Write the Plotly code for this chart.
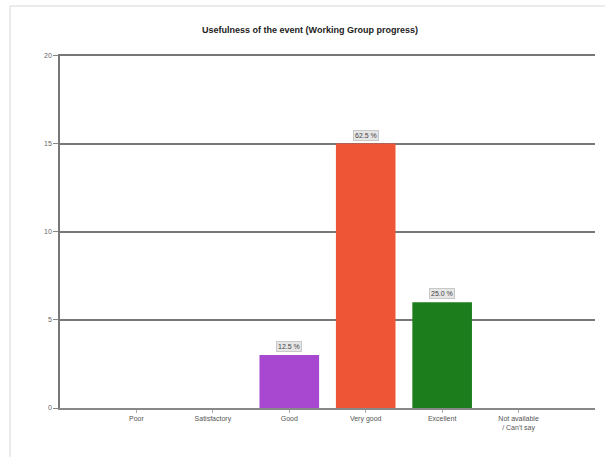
import plotly.graph_objects as go

# Survey responses: usefulness of the event (Working Group progress)
categories = ["Poor", "Satisfactory", "Good", "Very good", "Excellent",
              "Not available<br>/ Can't say"]
counts = [0, 0, 3, 15, 6, 0]
bar_colors = ["#888888", "#888888", "#a847cf", "#ee5536", "#1b7d1b", "#888888"]
y_ticks = [0, 5, 10, 15, 20]

total = sum(counts)
percents = [100.0 * c / total for c in counts]

W, H = 605, 457
L, R, T, B = 60, 10, 54, 49

fig = go.Figure()
fig.add_trace(go.Bar(
    x=list(range(len(categories))),
    y=counts,
    width=0.78,
    marker=dict(color=bar_colors, line=dict(width=0)),
    hoverinfo="skip",
))

# Percentage labels in small boxes above non-empty bars
for i, (c, p) in enumerate(zip(counts, percents)):
    if c > 0:
        fig.add_annotation(
            x=i, y=c, xref="x", yref="y",
            text=f"{p:.1f} %", showarrow=False,
            yanchor="bottom", yshift=3,
            font=dict(family="Liberation Sans, Arial", size=7, color="#444444"),
            bgcolor="#e6e6e6", bordercolor="#c8c8c8", borderwidth=1, borderpad=1,
        )

pw, ph = W - L - R, H - T - B
# light frame lines (left and top edges of the chart container)
fig.add_shape(type="line", xref="paper", yref="paper",
              x0=(10 - L) / pw, x1=(10 - L) / pw, y0=(H - B - H) / ph, y1=(H - B - 6) / ph,
              line=dict(color="#e4e4e4", width=1.5))
fig.add_shape(type="line", xref="paper", yref="paper",
              x0=(10 - L) / pw, x1=(W - L) / pw, y0=(H - B - 6) / ph, y1=(H - B - 6) / ph,
              line=dict(color="#e4e4e4", width=1.5))

fig.update_layout(
    width=W, height=H,
    margin=dict(l=L, r=R, t=T, b=B),
    paper_bgcolor="white", plot_bgcolor="white",
    showlegend=False,
    title=dict(
        text="<b>Usefulness of the event (Working Group progress)</b>",
        x=(310) / W, xanchor="center", y=1 - 30 / H, yanchor="middle",
        font=dict(family="Liberation Sans, Arial", size=9, color="#222222"),
    ),
    xaxis=dict(
        range=[-1, 6],
        tickmode="array",
        tickvals=list(range(len(categories))),
        ticktext=categories,
        showgrid=False, zeroline=False,
        showline=True, linecolor="#888888", linewidth=1.5,
        ticks="outside", ticklen=3, tickcolor="#aaaaaa",
        tickfont=dict(family="Liberation Sans, Arial", size=7, color="#555555"),
        fixedrange=True,
    ),
    yaxis=dict(
        range=[0, 20.08],
        tickvals=y_ticks,
        showgrid=True, gridcolor="#777777", gridwidth=1.5,
        zeroline=False,
        showline=True, linecolor="#777777", linewidth=1.5,
        ticks="outside", ticklen=5, tickcolor="#888888",
        tickfont=dict(family="Liberation Sans, Arial", size=7, color="#666666"),
        fixedrange=True,
    ),
)

fig.write_html("out.html")
